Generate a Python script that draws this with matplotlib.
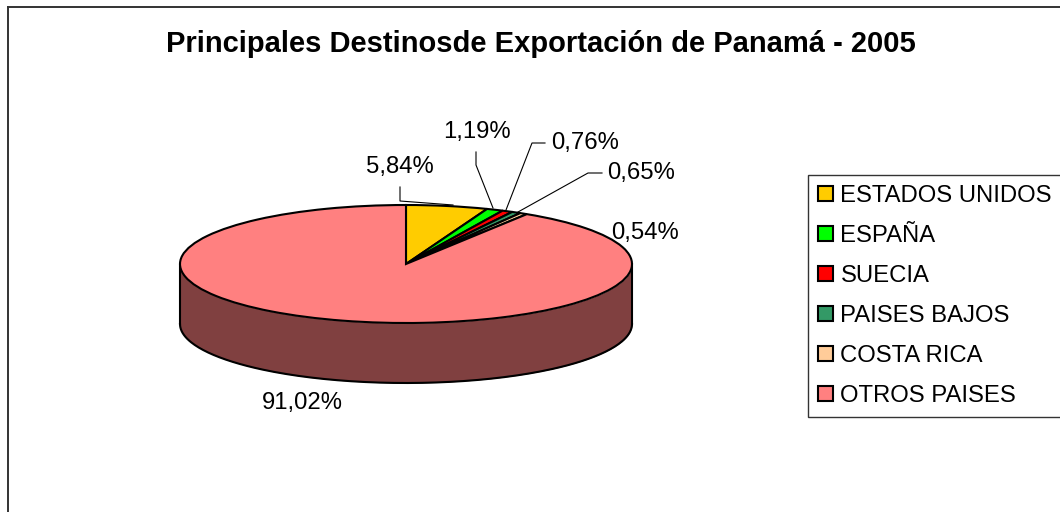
import numpy as np
import matplotlib
matplotlib.use("Agg")
import matplotlib.pyplot as plt

plt.rcParams["font.family"] = ["Liberation Sans", "DejaVu Sans"]

paises = ["ESTADOS UNIDOS", "ESPAÑA", "SUECIA", "PAISES BAJOS", "COSTA RICA", "OTROS PAISES"]
valores = [5.84, 1.19, 0.76, 0.65, 0.54, 91.02]
etiquetas = ["5,84%", "1,19%", "0,76%", "0,65%", "0,54%", "91,02%"]
colores = ["#FFCC00", "#00FF00", "#FF0000", "#339966", "#FFCC99", "#FF8080"]
color_lado = "#804040"
titulo = "Principales Destinosde Exportación de Panamá - 2005"

W, H = 1060, 512
cx, cy, rx, ry, prof = 406, 264, 226, 59, 60

fig = plt.figure(figsize=(W / 100, H / 100), dpi=100, facecolor="white")

# pie axes: one unit = pie radius, squashed to look 3D
ax = fig.add_axes([0, 0, 1, 1])
wedges, _ = ax.pie(valores, colors=colores, startangle=90, counterclock=False, radius=1,
                   wedgeprops=dict(edgecolor="black", linewidth=1.5, zorder=3))
ax.set_aspect("auto")
ax.set_xlim(-cx / rx, (W - cx) / rx)
ax.set_ylim((cy - H) / ry, cy / ry)

d = prof / ry
t = np.linspace(np.pi, 2 * np.pi, 200)
ax.fill_between(np.cos(t), np.sin(t), np.sin(t) - d, color=color_lado, lw=0, zorder=1)
ax.plot(np.cos(t), np.sin(t) - d, color="black", lw=1.5, zorder=2)
ax.plot([-1, -1], [0, -d], color="black", lw=1.5, zorder=2)
ax.plot([1, 1], [0, -d], color="black", lw=1.5, zorder=2)

# overlay in pixels for text, leaders and frame
ov = fig.add_axes([0, 0, 1, 1], facecolor="none")
ov.set_xlim(0, W)
ov.set_ylim(H, 0)
ov.axis("off")

ov.plot([8, 8], [H, 7], color="#333333", lw=1.4, clip_on=False)
ov.plot([8, W], [7, 7], color="#333333", lw=1.4, clip_on=False)

ov.text(541, 43.5, titulo, ha="center", va="center", fontsize=21, fontweight="bold", color="black")

pos_etiq = [(400, 167), (477, 132), (585, 143), (641, 173), (645, 233), (302, 403)]
for (x, y), s in zip(pos_etiq, etiquetas):
    ov.text(x, y, s, ha="center", va="center", fontsize=17.2, color="black")

guias = [
    ([400, 400, 453], [187, 201, 205]),
    ([476, 476, 493], [152, 165, 208]),
    ([545, 532, 506], [143, 143, 210]),
    ([602, 588, 518], [173, 173, 212]),
]
for xs, ys in guias:
    ov.plot(xs, ys, color="black", lw=0.8)

leg = ov.legend(wedges, paises, loc="upper left", bbox_to_anchor=(808 / W, 1 - 175 / H),
                bbox_transform=fig.transFigure, fontsize=17.2, frameon=True, fancybox=False,
                edgecolor="#333333", facecolor="white", framealpha=1, borderaxespad=0,
                handlelength=0.6, handleheight=0.6, handletextpad=0.33,
                labelspacing=0.75, borderpad=0.43)
leg.get_frame().set_linewidth(1.0)
leg.set_clip_on(False)

fig.savefig("out.png", dpi=100)
